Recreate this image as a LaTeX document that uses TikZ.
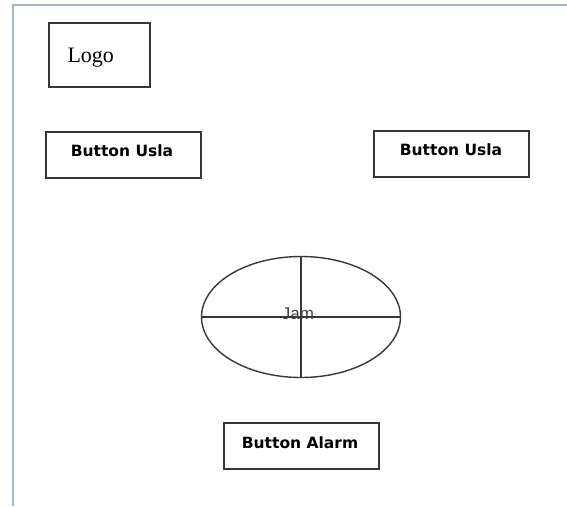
\documentclass[tikz,border=0pt]{standalone}
\usepackage{fontspec}
\setmainfont{Liberation Serif}
\newfontfamily\btnfont{DejaVu Sans}
\newfontfamily\jamfont{Liberation Sans}
\usetikzlibrary{shapes.geometric}
\definecolor{framecol}{RGB}{155,183,214}
\definecolor{boxcol}{RGB}{55,55,55}
\begin{document}
\begin{tikzpicture}[x=1pt,y=-1pt,
  boxstyle/.style={draw=boxcol,line width=1.5pt,inner sep=0pt},
  btntext/.style={font=\btnfont\bfseries\fontsize{15.5}{15.5}\selectfont,text=black}]
\useasboundingbox (0,0) rectangle (567,506);
% frame
\draw[framecol,line width=1.8pt] (13,506) -- (13,5) -- (567,5);
% logo
\node[boxstyle,minimum width=101pt,minimum height=64pt] (logo) at (99.5,55) {};
\node[font=\fontsize{22}{22}\selectfont,anchor=base west] (logotext) at (64,62) {Logo};
% buttons
\node[boxstyle,minimum width=155pt,minimum height=46pt] (usla1) at (123.5,155) {};
\node[btntext] (usla1t) at (122,151) {Button Usla};
\node[boxstyle,minimum width=155pt,minimum height=46pt] (usla2) at (451.5,154) {};
\node[btntext] (usla2t) at (451,150) {Button Usla};
% clock
\node[draw=boxcol,line width=1.4pt,ellipse,minimum width=199pt,minimum height=121pt,inner sep=0pt] (jam) at (301,317) {};
\draw[boxcol,line width=1.4pt] (jam.west) -- (jam.east);
\draw[boxcol,line width=1.4pt] (jam.north) -- (jam.south);
\node[font=\jamfont\fontsize{17}{17}\selectfont,text=black!75,anchor=base] (jamt) at (298,319) {Jam};
% alarm
\node[boxstyle,minimum width=155pt,minimum height=46pt] (alarm) at (301.5,446) {};
\node[btntext] (alarmt) at (300,443) {Button Alarm};
\end{tikzpicture}
\end{document}
